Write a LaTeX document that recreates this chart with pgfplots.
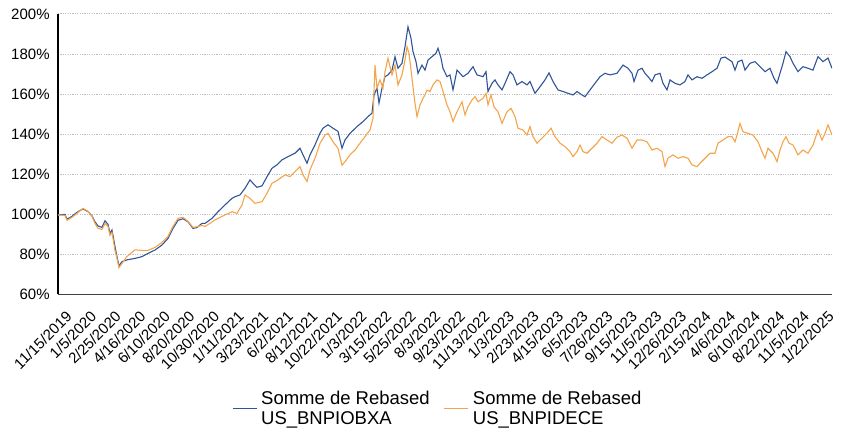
\documentclass[border=0pt]{standalone}
\usepackage{fontspec}
\setmainfont{Liberation Sans}
\usepackage{pgfplots}
\pgfplotsset{compat=1.18}
\definecolor{bluel}{RGB}{47,85,151}
\definecolor{orangel}{RGB}{244,164,74}
\begin{document}
\begin{tikzpicture}
\useasboundingbox (0,0) rectangle (421pt,221pt);
\begin{axis}[
  at={(29pt,73.75pt)}, anchor=south west,
  scale only axis, width=387pt, height=140.25pt,
  xmin=0, xmax=774, ymin=60, ymax=200,
  separate axis lines,
  axis x line*=bottom, axis y line*=left,
  x axis line style={-, line width=0.9pt, color=black!75},
  y axis line style={-, line width=0.6pt, color=black},
  major tick length=0pt,
  ytick={60,80,100,120,140,160,180,200},
  yticklabels={60\%,80\%,100\%,120\%,140\%,160\%,180\%,200\%},
  yticklabel style={inner sep=0pt, font=\fontsize{7.5}{9}\selectfont},
  yticklabel shift=4pt,
  ymajorgrids,
  major grid style={gray!50, line width=0.5pt, dash pattern=on 0.6pt off 0.6pt},
  xtick={7,31.58,56.16,80.74,105.32,129.9,154.48,179.06,203.64,228.22,252.8,277.38,301.96,326.54,351.12,375.7,400.28,424.86,449.44,474.02,498.6,523.18,547.76,572.34,596.92,621.5,646.08,670.66,695.24,719.82,744.4,768.98},
  xticklabels={11/15/2019,1/5/2020,2/25/2020,4/16/2020,6/10/2020,8/20/2020,10/30/2020,1/11/2021,3/23/2021,6/2/2021,8/12/2021,10/22/2021,1/3/2022,3/15/2022,5/25/2022,8/3/2022,9/23/2022,11/13/2022,1/3/2023,2/23/2023,4/15/2023,6/5/2023,7/26/2023,9/15/2023,11/5/2023,12/26/2023,2/15/2024,4/6/2024,6/10/2024,8/22/2024,11/5/2024,1/22/2025},
  xticklabel style={rotate=45, anchor=north east, inner sep=0pt, font=\fontsize{7.5}{9}\selectfont},
  xticklabel shift=7.5pt,
  legend columns=2,
  legend cell align=left,
  legend style={at={(0.492,-0.408)}, anchor=center, draw=none, fill=none,
    font=\fontsize{9.25}{10}\selectfont, cells={align=left},
    /tikz/every even column/.append style={column sep=5pt}},
  legend image code/.code={\draw[#1] (0pt,0pt) -- (12pt,0pt);},
]
\addplot[color=bluel, line width=0.55pt] coordinates {
(0,99.7)(7,100)(9,97.6)(14,99)(19,101)(25,102.7)(30,101.4)(34,99.2)(37,96.3)(40,94.2)(44,93.5)(47,96.8)(50,95)(52,90.5)(54,92.2)(57,83.9)(59,78.9)(61,74.2)(64,76.4)(69,77.3)(77,78)(84,78.9)(90,80.5)(97,82.2)(104,84.7)(110,88)(115,93)(120,97)(125,97.8)(130,96.3)(135,93)(139,93.4)(144,95.5)
(147,95.5)(154,98)(160,101.3)(167,104.7)(174,108)(177,108.8)(182,109.7)(187,113)(192,117.2)(195,115.5)(199,113.5)(204,114.2)(209,118.8)(214,123)(219,124.7)(224,127.2)(230,128.8)(237,130.5)(242,133)(245,129.7)(249,125.5)(252,129.7)(257,134.7)(262,140.5)(265,143)(270,144.7)(275,143)(280,141.4)(284,133)(287,137.1)(292,140.4)(299,143.8)(305,146.3)(310,148.8)(314,150.5)(316,159.6)(319,163)(321,155.5)(324,163)(327,168.7)(330,169.6)(334,172)(337,178.7)(340,172.9)(344,175.4)(347,183.7)(350,193.6)(353,187.9)(355,181.2)(358,176.2)(360,170.4)(364,174.5)(367,172)(370,177)(374,178.7)(378,180.4)(380,182.9)(383,178)(385,172.9)(389,168.7)(392,169.6)(395,162.1)(399,172)(402,170.4)(405,168.7)(410,170.4)(415,173.7)(419,169.6)
(425,168.7)(428,171.2)(430,161.3)(434,165.4)(437,167.1)(440,164.6)(444,162.1)(447,165.4)(452,171.2)(455,169.6)(459,164.6)(464,166.3)(469,164.6)(472,166.3)(477,160.4)(482,163.7)(487,167.1)(491,170.6)(495,166.3)(500,162.1)(505,161.3)(510,160.4)(515,159.6)(519,161.3)(524,159.6)(527,158.7)(532,162.1)(537,165.4)(542,168.7)(547,170.4)(552,169.6)(559,170.4)(565,174.5)(570,172.9)(574,170.4)(576,166.3)(580,172)(584,172.9)(587,170.4)(590,168.7)(594,166.3)(597,169.6)(602,170.4)(605,165.4)(609,162.1)(612,167.1)(617,165.4)(622,164.6)(627,166.3)(630,169.6)(634,167.1)(639,168.7)(644,167.9)(649,169.6)(654,171.2)(659,172.9)(663,178)(667,178.5)(674,176.2)(677,172)(680,176.2)(684,177)(687,172)(692,175.4)(697,176.2)(702,173.7)(707,171.2)(712,172.9)(716,167.9)(719,165.4)(722,170.4)(725,175.4)(728,181.2)(732,178.7)(735,175.4)(740,171.2)(745,173.7)(750,172.9)(755,172)(760,178.7)(765,176.2)(770,178)(774,172.9)
};
\addlegendentry{Somme de Rebased\\US\_BNPIOBXA}
\addplot[color=orangel, line width=0.55pt] coordinates {
(0,99.7)(7,99.5)(9,97)(14,98.5)(19,100.5)(25,103)(30,101.5)(34,99)(37,95.5)(40,93)(44,92.5)(47,95.5)(50,94)(52,89.5)(54,91)(57,82)(59,78)(61,73.4)(64,75.5)(69,79)(77,82.3)(84,82)(90,82)(97,83.5)(104,86)(110,89)(115,94)(120,98)(125,98.5)(130,96.5)(135,93.5)(139,93.8)(144,94.5)
(147,93.9)(157,97.2)(167,99.7)(174,101.3)(179,100.5)(184,104.7)(187,109.7)(192,108)(197,105.5)(204,106.3)(209,110.5)(214,115.5)(220,117.2)(227,119.7)(232,118.8)(237,121.3)(242,123.8)(245,119.7)(249,116.4)(252,122.2)(257,128)(262,135.4)(267,139.6)(270,140.4)(275,136.2)(280,133)(284,124.5)(287,126.3)(292,129.7)(297,132.1)(302,135.5)(307,138.8)(312,142.1)(315,148)(317,174.5)(319,163)(322,167.1)(325,163)(327,171.2)(330,177.9)(334,169.6)(337,174.5)(340,164.6)(344,169.6)(347,177)(349,183.7)(351,180.4)(354,167.9)(355,163.7)(357,155.5)(359,148.8)(362,154.6)(365,157.9)(367,159.6)(369,162)(372,161.3)(375,164.6)(379,167.1)(382,166.3)(385,161.3)(389,154.6)(392,151.2)(395,146.3)(399,151.2)(404,156.2)(407,149.6)(410,153.7)(414,157.1)(417,158.7)(420,156.2)
(425,157.9)(428,160.4)(430,154.6)(433,159.6)(436,153.7)(440,151.2)(444,145.4)(449,151.2)(453,152.9)(457,148.8)(460,143)(465,142.1)(469,139.6)(472,143.8)(475,138.8)(479,135.5)(484,138)(489,140.5)(493,143)(497,138.8)(502,135.5)(507,133.8)(512,131.3)(515,128.8)(519,131.3)(522,134.6)(525,131.3)(529,130.5)(534,133)(539,135.5)(544,138.8)(549,137.1)(554,135.5)(559,138.5)(564,139.6)(569,138)(574,133)(579,137.1)(584,137.1)(589,136.2)(594,132.1)(599,133)(604,131.3)(607,123.8)(610,128)(615,129.7)(620,128)(625,128.8)(630,128)(634,124.7)(639,123.8)(642,125.5)(647,128)(652,130.5)(657,130.5)(660,135.5)(665,137.1)(670,138.8)(674,138.8)(677,136.2)(679,139.6)(682,145.4)(685,141.2)(690,140.4)(695,139.6)(700,136.2)(704,131.3)(707,128)(710,133)(715,130.5)(719,126.3)(722,132.1)(725,136.2)(728,138.8)(731,135.5)(735,134.6)(740,129.7)(745,132.1)(750,130.5)(755,134.6)(760,142.1)(764,137.1)(767,140.4)(770,144.7)(774,139.6)
};
\addlegendentry{Somme de Rebased\\US\_BNPIDECE}
\end{axis}
\end{tikzpicture}
\end{document}
